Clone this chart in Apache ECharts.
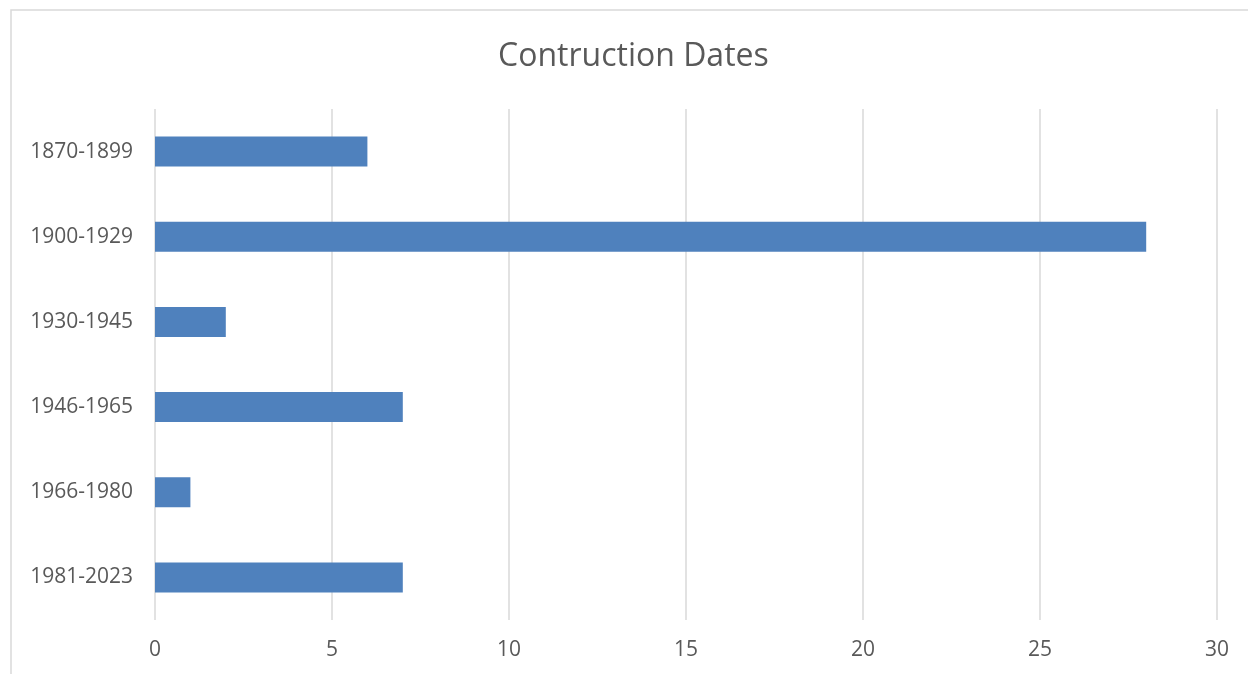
<!DOCTYPE html>
<html>
<head>
<meta charset="utf-8">
<script src="https://cdn.jsdelivr.net/npm/echarts@6/dist/echarts.min.js"></script>
<style>
html,body{margin:0;padding:0;background:#fff;}
#chart{width:1248px;height:674px;}
</style>
</head>
<body>
<div id="chart"></div>
<script>
const categories = ['1870-1899', '1900-1929', '1930-1945', '1946-1965', '1966-1980', '1981-2023'];
const counts = [6, 28, 2, 7, 1, 7];
const xTicks = [0, 5, 10, 15, 20, 25, 30];

const chart = echarts.init(document.getElementById('chart'));
const font = '"Open Sans", "Liberation Sans", sans-serif';
chart.setOption({
  animation: false,
  backgroundColor: '#ffffff',
  title: {
    text: 'Contruction Dates',
    left: 493,
    top: 36,
    textStyle: { fontFamily: font, fontSize: 32, fontWeight: 'normal', color: '#595959' }
  },
  graphic: [{
    type: 'rect',
    silent: true,
    shape: { x: 11, y: 10, width: 1400, height: 800 },
    style: { fill: 'none', stroke: '#d9d9d9', lineWidth: 1.5 }
  }],
  grid: { left: 155, right: 31, top: 109, bottom: 54, containLabel: false },
  xAxis: {
    type: 'value',
    min: xTicks[0],
    max: xTicks[xTicks.length - 1],
    interval: xTicks[1] - xTicks[0],
    axisLine: { show: false },
    axisTick: { show: false },
    splitLine: { show: true, lineStyle: { color: '#d9d9d9', width: 1.5 } },
    axisLabel: { fontFamily: font, fontSize: 21, color: '#595959', margin: 20 }
  },
  yAxis: {
    type: 'category',
    data: categories,
    inverse: true,
    axisLine: { show: false },
    axisTick: { show: false },
    splitLine: { show: false },
    axisLabel: { fontFamily: font, fontSize: 21, color: '#595959', margin: 22 }
  },
  series: [{
    type: 'bar',
    data: counts,
    barWidth: 30,
    itemStyle: { color: '#4f81bd' }
  }]
});
</script>
</body>
</html>
